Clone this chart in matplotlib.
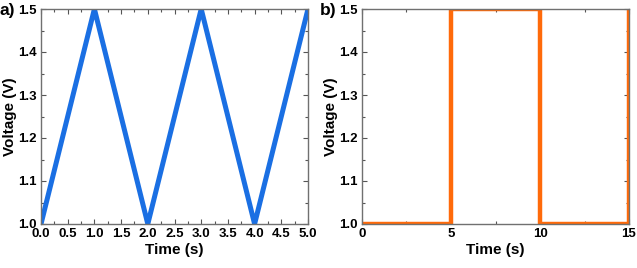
import matplotlib
matplotlib.use("Agg")
import matplotlib.pyplot as plt
from matplotlib.ticker import MultipleLocator

# panel a) : triangle wave
t_tri = [0, 1, 2, 3, 4, 5]
v_tri = [1.0, 1.5, 1.0, 1.5, 1.0, 1.5]

# panel b) : square wave
t_sq = [0, 5, 5, 10, 10, 15, 15]
v_sq = [1.0, 1.0, 1.5, 1.5, 1.0, 1.0, 1.5]

plt.rcParams['font.family'] = ['Liberation Sans', 'DejaVu Sans']
plt.rcParams['font.weight'] = 'bold'

fig = plt.figure(figsize=(6.37, 2.68), dpi=100)
W, H = 637, 268
ax1 = fig.add_axes([41 / W, 1 - 224 / H, 267 / W, 215 / H])
ax2 = fig.add_axes([362 / W, 1 - 224 / H, 267 / W, 215 / H])

ax1.plot(t_tri, v_tri, color='#1a6fe3', linewidth=3.6, solid_joinstyle='miter')
ax2.plot(t_sq, v_sq, color='#ff6a0a', linewidth=3.2)

ax1.set_xlim(0, 5)
ax1.xaxis.set_major_locator(MultipleLocator(0.5))
ax1.xaxis.set_minor_locator(MultipleLocator(0.25))
ax2.set_xlim(0, 15)
ax2.xaxis.set_major_locator(MultipleLocator(5))
ax2.xaxis.set_minor_locator(MultipleLocator(2.5))

for ax, lab, lx in [(ax1, 'a)', 0), (ax2, 'b)', 320)]:
    ax.set_ylim(1.0, 1.5)
    ax.yaxis.set_major_locator(MultipleLocator(0.1))
    ax.yaxis.set_minor_locator(MultipleLocator(0.05))
    ax.yaxis.set_major_formatter(plt.FormatStrFormatter('%.1f'))
    if ax is ax1:
        ax.xaxis.set_major_formatter(plt.FormatStrFormatter('%.1f'))
    ax.tick_params(which='both', direction='in', top=True, right=True,
                   color='#555555', labelsize=9.5, pad=3)
    ax.tick_params(which='major', length=3.5, width=0.8)
    ax.tick_params(which='minor', length=2, width=0.8)
    for s in ax.spines.values():
        s.set_color('#707070')
        s.set_linewidth(1.0)
    ax.set_xlabel('Time (s)', fontsize=11, fontweight='bold', labelpad=2)
    ax.set_ylabel('Voltage (V)', fontsize=11, fontweight='bold', labelpad=1)
    fig.text(lx / W, 1 - 11 / H, lab, fontsize=12.5, fontweight='bold',
             va='center', ha='left')

fig.savefig("out.png", dpi=100)
